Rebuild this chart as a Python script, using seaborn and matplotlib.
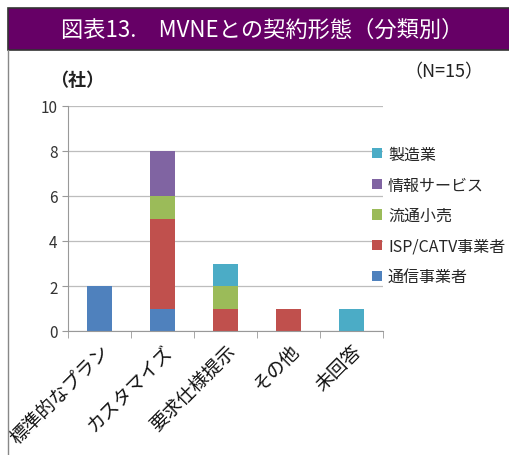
#!/usr/bin/env python3

import numpy as np
import pandas as pd
import matplotlib
matplotlib.use("Agg")
import matplotlib.pyplot as plt
from matplotlib.patches import Rectangle, Patch
from matplotlib.ticker import FixedLocator
import seaborn as sns

categories = ["標準的なプラン", "カスタマイズ", "要求仕様提示", "その他", "未回答"]
series_names = ["通信事業者", "ISP/CATV事業者", "流通小売", "情報サービス", "製造業"]
tsushin = [2, 1, 0, 0, 0]
isp_catv = [0, 4, 1, 1, 0]
ryutsu = [0, 1, 1, 0, 0]
joho = [0, 2, 0, 0, 0]
seizo = [0, 0, 1, 0, 1]
colors = ["#4F81BD", "#C0504D", "#9BBB59", "#8064A2", "#4BACC6"]


def main():
    sns.set_style("white")
    plt.rcParams["font.family"] = ["Noto Sans CJK JP", "DejaVu Sans"]

    values = [tsushin, isp_catv, ryutsu, joho, seizo]
    cum = np.cumsum(np.array(values), axis=0)

    fig = plt.figure(figsize=(5.10, 4.56), dpi=100)

    # title bar
    fig.patches.append(Rectangle((8 / 510, 1 - 51 / 456), 502 / 510, 42 / 456,
                                 transform=fig.transFigure, facecolor="#660066",
                                 edgecolor="#333333", linewidth=1.2))
    fig.text(0.515, 1 - 30 / 456, "図表13.　MVNEとの契約形態（分類別）",
             color="white", fontsize=16, ha="center", va="center")
    # left frame line
    fig.lines.append(plt.Line2D([8.5 / 510, 8.5 / 510], [0, 1 - 51 / 456],
                                transform=fig.transFigure, color="#888888", lw=1))

    ax = fig.add_axes([68 / 510, 1 - 332 / 456, 315 / 510, 225 / 456])

    # draw tallest cumulative first so lower segments overlay
    for i in range(len(values) - 1, -1, -1):
        df = pd.DataFrame({"cat": categories, "val": cum[i]})
        sns.barplot(data=df, x="cat", y="val", order=categories, color=colors[i],
                    width=0.4, saturation=1, ax=ax, edgecolor="none")

    ax.set_ylim(0, 10)
    ax.set_xlim(-0.5, 4.5)
    ax.set_yticks(range(0, 11, 2))
    ax.yaxis.grid(True, color="#bdbdbd", linewidth=0.9)
    ax.set_axisbelow(True)
    for s in ["top", "right"]:
        ax.spines[s].set_visible(False)
    for s in ["left", "bottom"]:
        ax.spines[s].set_color("#999999")
    ax.set_xlabel("")
    ax.set_ylabel("")

    ax.tick_params(axis="y", which="major", left=True, length=4, color="#999999",
                   labelsize=11, labelcolor="#333333")
    ax.tick_params(axis="x", which="major", bottom=False, labelsize=13.5, pad=3)
    ax.xaxis.set_minor_locator(FixedLocator(np.arange(-0.5, 5.0, 1.0)))
    ax.tick_params(axis="x", which="minor", bottom=True, length=5, color="#999999")
    ax.set_xticks(range(len(categories)))
    ax.set_xticklabels(categories, rotation=45, ha="right", rotation_mode="anchor",
                       color="#111111")

    fig.text(50 / 510, 1 - 80 / 456, "（社）", fontsize=13, ha="left", va="center",
             color="#222222", fontweight="bold")
    fig.text(404 / 510, 1 - 72 / 456, "（N=15）", fontsize=13, ha="left",
             va="center", color="#222222")

    handles = [Patch(facecolor=colors[i], edgecolor="none")
               for i in range(len(series_names) - 1, -1, -1)]
    labels = series_names[::-1]
    ax.legend(handles, labels, loc="upper left", bbox_to_anchor=(372 / 510, 1 - 147 / 456),
              bbox_transform=fig.transFigure, frameon=False, fontsize=11.5,
              handlelength=0.6, handleheight=0.6, handletextpad=0.4,
              labelspacing=0.85, borderaxespad=0, borderpad=0)

    plt.savefig("out.png", dpi=100)
    plt.close()


if __name__ == "__main__":
    main()
